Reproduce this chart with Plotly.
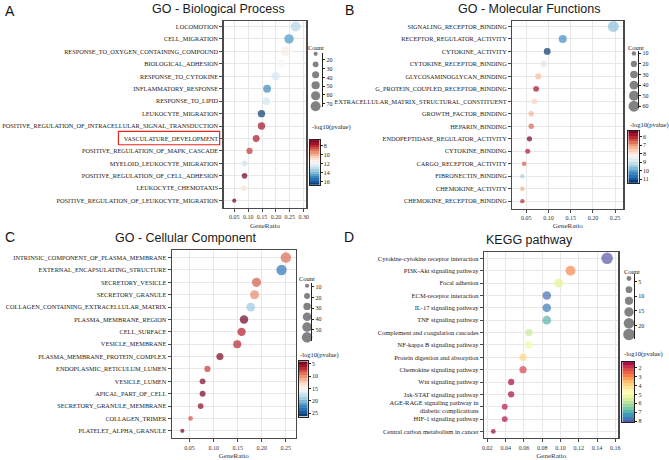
import plotly.graph_objects as go

W, H = 669, 460

# ---------------- Data ----------------
# A: GO - Biological Process
bp_terms = ["LOCOMOTION", "CELL_MIGRATION", "RESPONSE_TO_OXYGEN_CONTAINING_COMPOUND",
            "BIOLOGICAL_ADHESION", "RESPONSE_TO_CYTOKINE", "INFLAMMATORY_RESPONSE",
            "RESPONSE_TO_LIPID", "LEUKOCYTE_MIGRATION",
            "POSITIVE_REGULATION_OF_INTRACELLULAR_SIGNAL_TRANSDUCTION",
            "VASCULATURE_DEVELOPMENT", "POSITIVE_REGULATION_OF_MAPK_CASCADE",
            "MYELOID_LEUKOCYTE_MIGRATION", "POSITIVE_REGULATION_OF_CELL_ADHESION",
            "LEUKOCYTE_CHEMOTAXIS", "POSITIVE_REGULATION_OF_LEUKOCYTE_MIGRATION"]
bp_ratio = [0.271, 0.247, 0.235, 0.220, 0.199, 0.168, 0.165, 0.148, 0.148, 0.129,
            0.105, 0.087, 0.087, 0.084, 0.050]
bp_count = [73, 66, 63, 59, 53, 45, 44, 40, 40, 35, 28, 23, 23, 23, 13]
bp_logp = [13.2, 14.6, 11.3, 11.7, 12.6, 14.9, 12.6, 16.5, 7.4, 7.6, 8.1, 12.8, 6.8, 10.9, 6.8]
bp_cb_ticks = [8, 10, 12, 14, 16]
bp_cb_range = [6.7, 16.7]
bp_leg_sizes = [13, 25, 37, 49, 61, 73]
bp_leg_ticks = [20, 30, 40, 50, 60, 70]
bp_x_ticks = [0.05, 0.10, 0.15, 0.20, 0.25, 0.30]

# B: GO - Molecular Functions
mf_terms = ["SIGNALING_RECEPTOR_BINDING", "RECEPTOR_REGULATOR_ACTIVITY", "CYTOKINE_ACTIVITY",
            "CYTOKINE_RECEPTOR_BINDING", "GLYCOSAMINOGLYCAN_BINDING",
            "G_PROTEIN_COUPLED_RECEPTOR_BINDING", "EXTRACELLULAR_MATRIX_STRUCTURAL_CONSTITUENT",
            "GROWTH_FACTOR_BINDING", "HEPARIN_BINDING", "ENDOPEPTIDASE_REGULATOR_ACTIVITY",
            "CYTOKINE_BINDING", "CARGO_RECEPTOR_ACTIVITY", "FIBRONECTIN_BINDING",
            "CHEMOKINE_ACTIVITY", "CHEMOKINE_RECEPTOR_BINDING"]
mf_ratio = [0.246, 0.132, 0.097, 0.089, 0.077, 0.072, 0.068, 0.061, 0.061, 0.057,
            0.053, 0.045, 0.041, 0.041, 0.041]
mf_count = [62, 33, 24, 22, 19, 18, 17, 15, 15, 14, 13, 11, 10, 10, 10]
mf_logp = [9.65, 10.3, 11.4, 8.9, 7.4, 5.8, 7.7, 7.3, 6.6, 5.4, 5.9, 6.5, 9.4, 7.2, 6.05]
mf_cb_ticks = [6, 7, 8, 9, 10, 11]
mf_cb_range = [5.3, 11.47]
mf_leg_sizes = [10, 20, 30, 40, 50, 60]
mf_leg_ticks = [10, 20, 30, 40, 50, 60]
mf_x_ticks = [0.05, 0.10, 0.15, 0.20, 0.25]

# C: GO - Cellular Component
cc_terms = ["INTRINSIC_COMPONENT_OF_PLASMA_MEMBRANE", "EXTERNAL_ENCAPSULATING_STRUCTURE",
            "SECRETORY_VESICLE", "SECRETORY_GRANULE",
            "COLLAGEN_CONTAINING_EXTRACELLULAR_MATRIX", "PLASMA_MEMBRANE_REGION",
            "CELL_SURFACE", "VESICLE_MEMBRANE", "PLASMA_MEMBRANE_PROTEIN_COMPLEX",
            "ENDOPLASMIC_RETICULUM_LUMEN", "VESICLE_LUMEN", "APICAL_PART_OF_CELL",
            "SECRETORY_GRANULE_MEMBRANE", "COLLAGEN_TRIMER", "PLATELET_ALPHA_GRANULE"]
cc_ratio = [0.250, 0.241, 0.189, 0.185, 0.177, 0.163, 0.158, 0.149, 0.113, 0.087,
            0.077, 0.077, 0.073, 0.052, 0.035]
cc_count = [57, 55, 43, 42, 40, 37, 36, 34, 26, 20, 18, 18, 17, 12, 9]
cc_logp = [8.8, 23.5, 8.3, 9.8, 19.3, 4.3, 6.3, 6.6, 4.6, 7.3, 4.7, 4.4, 4.9, 8.2, 4.3]
cc_cb_ticks = [5, 10, 15, 20, 25]
cc_cb_range = [4.0, 26.4]
cc_leg_sizes = [9, 18.6, 28.2, 37.8, 47.4, 57]
cc_leg_ticks = [10, 20, 30, 40, 50]
cc_x_ticks = [0.05, 0.10, 0.15, 0.20, 0.25]

# D: KEGG pathway
kg_terms = ["Cytokine-cytokine receptor interaction", "PI3K-Akt signaling pathway",
            "Focal adhesion", "ECM-receptor interaction", "IL-17 signaling pathway",
            "TNF signaling pathway", "Complement and coagulation cascades",
            "NF-kappa B signaling pathway", "Protein digestion and absorption",
            "Chemokine signaling pathway", "Wnt signaling pathway", "Jak-STAT signaling pathway",
            "AGE-RAGE signaling pathway in<br>diabetic complications", "HIF-1 signaling pathway",
            "Central carbon metabolism in cancer"]
kg_ratio = [0.151, 0.111, 0.098, 0.085, 0.085, 0.085, 0.0655, 0.0655, 0.059, 0.059,
            0.046, 0.046, 0.039, 0.039, 0.0265]
kg_count = [23, 17, 15, 13, 13, 13, 10, 10, 9, 9, 7, 7, 6, 6, 4]
kg_logp = [8.0, 3.0, 5.4, 7.75, 7.6, 6.95, 5.75, 5.1, 3.9, 2.1, 1.45, 1.45, 1.6, 1.55, 1.37]
kg_cb_ticks = [2, 3, 4, 5, 6, 7, 8]
kg_cb_range = [1.35, 8.1]
kg_leg_sizes = [4, 7.8, 11.6, 15.4, 19.2, 23]
kg_leg_ticks = [5, 10, 15, 20]
kg_x_ticks = [0.02, 0.04, 0.06, 0.08, 0.10, 0.12, 0.14, 0.16]

titles = ["GO - Biological Process", "GO - Molecular Functions",
          "GO - Cellular Component", "KEGG pathway"]
letters = ["A", "B", "C", "D"]

# ---------------- Styles ----------------
# colour ramps listed from the top of the colour bar (low -log10 p) to the bottom
RDBU = ['#67001f', '#b2182b', '#d6604d', '#f4a582', '#fddbc7', '#f7f7f7',
        '#d1e5f0', '#92c5de', '#4393c3', '#2166ac', '#053061']
SPECTRAL = ['#9e0142', '#d53e4f', '#f46d43', '#fdae61', '#fee08b', '#ffffbf',
            '#e6f598', '#abdda4', '#66c2a5', '#3288bd', '#5e4fa2']
NBINS = 20


def scale(cols):
    n = len(cols) - 1
    return [[i / n, c] for i, c in enumerate(cols)]


SERIF = "Liberation Serif"
SANS = "Liberation Sans"
LINE = '#4a4a4a'
GRID = '#e8e8e8'
TXT = '#222222'


def fx(p):
    return p / W


def fy(p):
    return 1 - p / H


panels = [
    dict(terms=bp_terms, ratio=bp_ratio, count=bp_count, logp=bp_logp,
         cb_ticks=bp_cb_ticks, cb_range=bp_cb_range, leg_sizes=bp_leg_sizes,
         leg_ticks=bp_leg_ticks, xt=bp_x_ticks, cs=RDBU, yfont=6.3,
         xdom=(223.3, 306.7), ydom=(20, 208.3), xr=(0.0118, 0.3096), yr=(14.58, -0.455),
         sref=1.46, cbx=(310, 320), cby=(140, 185), cbt=(310, 127),
         leg_x=(309.3, 322.7), leg_ydom=(52.3, 106.8), leg_yr=(74, 12), cnt=(316.7, 46.7),
         title=(218, 8), letter=(8, 10)),
    dict(terms=mf_terms, ratio=mf_ratio, count=mf_count, logp=mf_logp,
         cb_ticks=mf_cb_ticks, cb_range=mf_cb_range, leg_sizes=mf_leg_sizes,
         leg_ticks=mf_leg_ticks, xt=mf_x_ticks, cs=RDBU, yfont=6.3,
         xdom=(514, 626), ydom=(20, 209), xr=(0.018, 0.2686), yr=(14.6, -0.45),
         sref=1.025, cbx=(631, 641.5), cby=(130.7, 183.4), cbt=(631, 125.2),
         leg_x=(632.4, 641), leg_ydom=(50.6, 108.1), leg_yr=(62, 8), cnt=(638.3, 46.7),
         title=(531, 8), letter=(350, 9)),
    dict(terms=cc_terms, ratio=cc_ratio, count=cc_count, logp=cc_logp,
         cb_ticks=cc_cb_ticks, cb_range=cc_cb_range, leg_sizes=cc_leg_sizes,
         leg_ticks=cc_leg_ticks, xt=cc_x_ticks, cs=RDBU, yfont=6.3,
         xdom=(171, 296), ydom=(250.7, 440), xr=(0.0129, 0.2706), yr=(14.59, -0.61),
         sref=1.03, cbx=(299, 308), cby=(362.7, 418.4), cbt=(298.3, 356.5),
         leg_x=(303, 311.7), leg_ydom=(283.4, 341.8), leg_yr=(60, 6), cnt=(307.3, 279),
         title=(185, 239), letter=(8, 238)),
    dict(terms=kg_terms, ratio=kg_ratio, count=kg_count, logp=kg_logp,
         cb_ticks=kg_cb_ticks, cb_range=kg_cb_range, leg_sizes=kg_leg_sizes,
         leg_ticks=kg_leg_ticks, xt=kg_x_ticks, cs=SPECTRAL, yfont=6.5,
         xdom=(485.7, 621), ydom=(252.7, 440), xr=(0.0164, 0.1633), yr=(14.54, -0.51),
         sref=0.348, cbx=(625, 637), cby=(363, 424), cbt=(625, 355),
         leg_x=(626.7, 636.7), leg_ydom=(274.9, 340), leg_yr=(24.5, 2.5), cnt=(634.7, 272.3),
         title=(531, 241), letter=(350, 238)),
]

fig = go.Figure()
layout = dict(width=W, height=H, autosize=False, margin=dict(l=0, r=0, t=0, b=0),
              paper_bgcolor='white', plot_bgcolor='white', showlegend=False,
              hovermode=False)
annotations = []
shapes = []

for i, p in enumerate(panels):
    k = i + 1
    xa, ya = ('x' if k == 1 else f'x{k}'), ('y' if k == 1 else f'y{k}')
    lk, ck = k + 4, k + 8
    lxa, lya = f'x{lk}', f'y{lk}'
    cxa, cya = f'x{ck}', f'y{ck}'
    lo, hi = p['cb_range']

    # main dot plot
    fig.add_trace(go.Scatter(
        x=p['ratio'], y=p['terms'], mode='markers', xaxis=xa, yaxis=ya,
        cliponaxis=False, hoverinfo='skip',
        marker=dict(size=p['count'], sizemode='area', sizeref=p['sref'],
                    color=p['logp'], cmin=lo, cmax=hi, colorscale=scale(p['cs']),
                    showscale=False, line=dict(width=0))))

    # count (size) legend
    fig.add_trace(go.Scatter(
        x=[0.5] * len(p['leg_sizes']), y=p['leg_sizes'], mode='markers',
        xaxis=lxa, yaxis=lya, cliponaxis=False, hoverinfo='skip',
        marker=dict(size=p['leg_sizes'], sizemode='area', sizeref=p['sref'],
                    color='#4d4d4d', line=dict(width=0))))

    # colour legend (banded bar like the reference)
    edges = [lo + (hi - lo) * j / NBINS for j in range(NBINS + 1)]
    mids = [(edges[j] + edges[j + 1]) / 2 for j in range(NBINS)]
    fig.add_trace(go.Heatmap(
        x=[0, 1], y=edges, z=[[m] for m in mids], xaxis=cxa, yaxis=cya,
        colorscale=scale(p['cs']), zmin=lo, zmax=hi, showscale=False, hoverinfo='skip'))

    layout['xaxis' if k == 1 else f'xaxis{k}'] = dict(
        domain=[fx(p['xdom'][0]), fx(p['xdom'][1])], anchor=ya, range=list(p['xr']),
        tickvals=p['xt'], ticktext=[f'{t:.2f}' for t in p['xt']],
        showgrid=True, gridcolor=GRID, gridwidth=1, zeroline=False,
        showline=True, linecolor=LINE, linewidth=1.2, mirror=True,
        ticks='outside', ticklen=3, tickwidth=1, tickcolor=LINE,
        tickfont=dict(family=SERIF, size=6, color='#333'),
        title=dict(text='GeneRatio', font=dict(family=SERIF, size=7, color='#333'), standoff=3))
    layout['yaxis' if k == 1 else f'yaxis{k}'] = dict(
        domain=[fy(p['ydom'][1]), fy(p['ydom'][0])], anchor=xa, type='category',
        categoryorder='array', categoryarray=p['terms'], range=list(p['yr']),
        showgrid=True, gridcolor=GRID, gridwidth=1, zeroline=False,
        showline=True, linecolor=LINE, linewidth=1.2, mirror=True,
        ticks='outside', ticklen=3, tickwidth=1, tickcolor=LINE,
        tickfont=dict(family=SERIF, size=p['yfont'], color=TXT))
    layout[f'xaxis{lk}'] = dict(domain=[fx(p['leg_x'][0]), fx(p['leg_x'][1])], anchor=lya,
                                range=[0, 1], visible=False, fixedrange=True)
    layout[f'yaxis{lk}'] = dict(domain=[fy(p['leg_ydom'][1]), fy(p['leg_ydom'][0])],
                                anchor=lxa, side='right', range=list(p['leg_yr']),
                                tickvals=p['leg_ticks'], showgrid=False, zeroline=False,
                                showline=True, linecolor=TXT, linewidth=1,
                                ticks='outside', ticklen=2, tickcolor=TXT,
                                tickfont=dict(family=SERIF, size=6, color=TXT))
    layout[f'xaxis{ck}'] = dict(domain=[fx(p['cbx'][0]), fx(p['cbx'][1])], anchor=cya,
                                range=[0, 1], showgrid=False, zeroline=False,
                                showticklabels=False, ticks='', showline=True,
                                linecolor=TXT, linewidth=1, mirror=True)
    layout[f'yaxis{ck}'] = dict(domain=[fy(p['cby'][1]), fy(p['cby'][0])], anchor=cxa,
                                side='right', range=[hi, lo], tickvals=p['cb_ticks'],
                                showgrid=False, zeroline=False, showline=True,
                                linecolor=TXT, linewidth=1, mirror=True,
                                ticks='outside', ticklen=2, tickcolor=TXT,
                                tickfont=dict(family=SERIF, size=6, color=TXT))
    # texts
    annotations.append(dict(text=titles[i], x=fx(p['title'][0]), y=fy(p['title'][1]),
                            xref='paper', yref='paper', showarrow=False,
                            xanchor='center', yanchor='middle',
                            font=dict(family=SANS, size=12.5, color='#1a1a1a')))
    annotations.append(dict(text=letters[i], x=fx(p['letter'][0]), y=fy(p['letter'][1]),
                            xref='paper', yref='paper', showarrow=False,
                            xanchor='center', yanchor='middle',
                            font=dict(family=SANS, size=14, color='#111')))
    annotations.append(dict(text='Count', x=fx(p['cnt'][0]), y=fy(p['cnt'][1]),
                            xref='paper', yref='paper', showarrow=False,
                            xanchor='center', yanchor='middle',
                            font=dict(family=SERIF, size=6.5, color=TXT)))
    annotations.append(dict(text='-log10(pvalue)', x=fx(p['cbt'][0]), y=fy(p['cbt'][1]),
                            xref='paper', yref='paper', showarrow=False,
                            xanchor='left', yanchor='middle',
                            font=dict(family=SERIF, size=6.5, color=TXT)))

vi = bp_terms.index("VASCULATURE_DEVELOPMENT")
shapes.append(dict(type='rect', xref='paper', yref='y', x0=fx(117.3), x1=fx(219.3),
                   y0=vi - 0.57, y1=vi + 0.5, line=dict(color='#e8261c', width=1.2)))

layout['annotations'] = annotations
layout['shapes'] = shapes
fig.update_layout(**layout)
fig.write_html("out.html", config={'staticPlot': True, 'displayModeBar': False},
               post_script="document.body.style.margin='0px';")
